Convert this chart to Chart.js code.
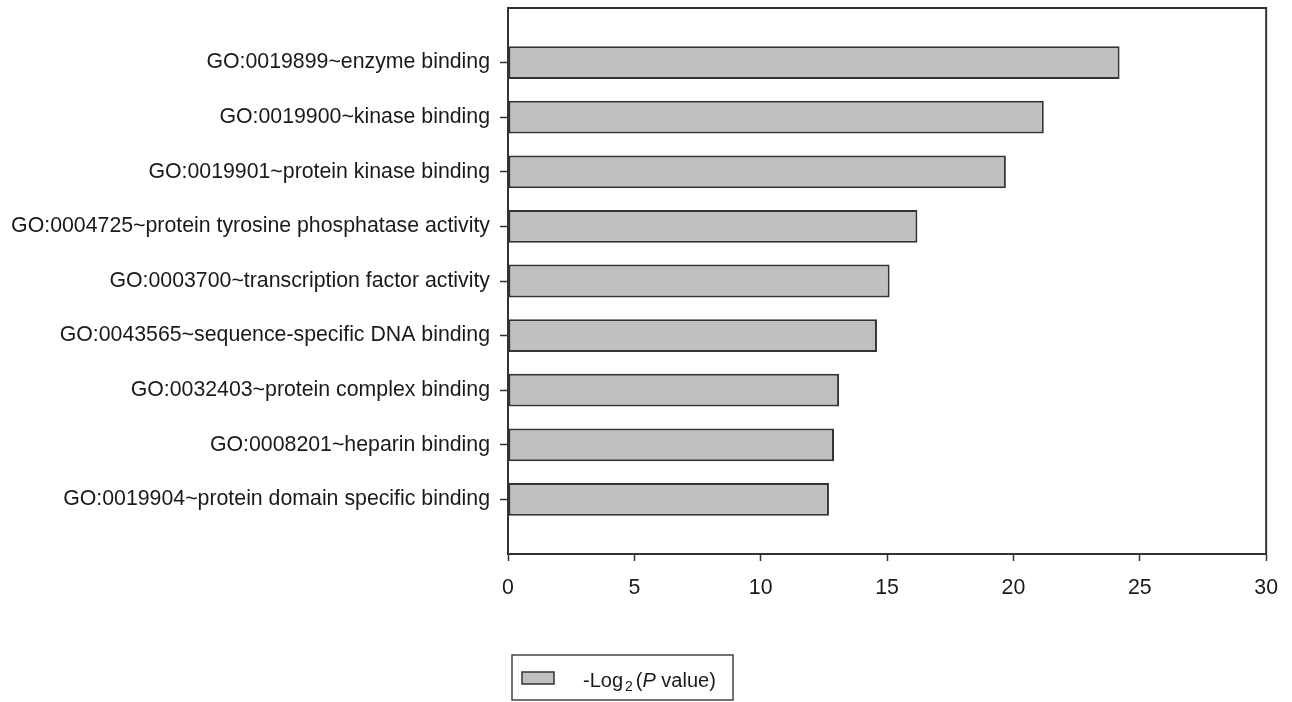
<!DOCTYPE html>
<html>
<head>
<meta charset="utf-8">
<script src="https://cdn.jsdelivr.net/npm/chart.js@4/dist/chart.umd.min.js"></script>
<style>
  html, body { margin: 0; padding: 0; background: #fff; }
  canvas { display: block; }
</style>
</head>
<body>
<canvas id="goChart" width="1292" height="702"></canvas>
<script>
// GO terms (top to bottom) and their -Log2(P value)
const categories = [
  'GO:0019899~enzyme binding',
  'GO:0019900~kinase binding',
  'GO:0019901~protein kinase binding',
  'GO:0004725~protein tyrosine phosphatase activity',
  'GO:0003700~transcription factor activity',
  'GO:0043565~sequence-specific DNA binding',
  'GO:0032403~protein complex binding',
  'GO:0008201~heparin binding',
  'GO:0019904~protein domain specific binding'
];
const values = [24.2, 21.2, 19.7, 16.2, 15.1, 14.6, 13.1, 12.9, 12.7];
const xTicks = [0, 5, 10, 15, 20, 25, 30];
const seriesLabel = '-Log\u2082(P value)';

const FONT = "'Liberation Sans', Arial, sans-serif";
const INK = '#1a1a1a';
const LINE = '#333333';
const BAR_FILL = '#c0c0c0';

// empty slot above and below so the bars sit like the original plot
const paddedLabels = [''].concat(categories, ['']);
const paddedValues = [null].concat(values, [null]);
const lastIdx = paddedLabels.length - 1;

// box around the whole plot area
const framePlugin = {
  id: 'frame',
  afterDraw(chart) {
    const { ctx, chartArea: a } = chart;
    ctx.save();
    ctx.strokeStyle = LINE;
    ctx.lineWidth = 2;
    ctx.strokeRect(a.left, a.top, a.right - a.left, a.bottom - a.top);
    ctx.restore();
  }
};

// legend box with subscript and italic P
const legendPlugin = {
  id: 'boxLegend',
  afterDraw(chart) {
    const ctx = chart.ctx;
    const ds = chart.data.datasets[0];
    ctx.save();
    ctx.strokeStyle = '#444';
    ctx.lineWidth = 1.5;
    ctx.strokeRect(512, 655, 221, 45);

    ctx.fillStyle = ds.backgroundColor;
    ctx.fillRect(522, 672, 32, 12);
    ctx.lineWidth = 1.5;
    ctx.strokeStyle = ds.borderColor;
    ctx.strokeRect(522, 672, 32, 12);

    const base = 687;
    let x = 583;
    const parts = [
      { t: '-Log', f: '20px ' + FONT, dy: 0, gap: 2 },
      { t: '2', f: '14px ' + FONT, dy: 4, gap: 3 },
      { t: '(', f: '20px ' + FONT, dy: 0, gap: 0 },
      { t: 'P', f: 'italic 20px ' + FONT, dy: 0, gap: 0 },
      { t: ' value)', f: '20px ' + FONT, dy: 0, gap: 0 }
    ];
    ctx.fillStyle = INK;
    ctx.textBaseline = 'alphabetic';
    ctx.textAlign = 'left';
    parts.forEach(p => {
      ctx.font = p.f;
      ctx.fillText(p.t, x, base + p.dy);
      x += ctx.measureText(p.t).width + p.gap;
    });
    ctx.restore();
  }
};

new Chart(document.getElementById('goChart'), {
  type: 'bar',
  data: {
    labels: paddedLabels,
    datasets: [{
      label: seriesLabel,
      data: paddedValues,
      backgroundColor: BAR_FILL,
      borderColor: LINE,
      borderWidth: 2,
      borderSkipped: false,
      categoryPercentage: 1,
      barPercentage: 0.6
    }]
  },
  options: {
    indexAxis: 'y',
    responsive: false,
    animation: false,
    layout: { padding: { top: 8, right: 25, bottom: 0, left: 0 } },
    plugins: {
      legend: { display: false },
      tooltip: { enabled: false }
    },
    scales: {
      y: {
        type: 'category',
        offset: false,
        grid: {
          offset: false,
          drawOnChartArea: false,
          drawTicks: true,
          tickLength: 8,
          tickWidth: 1.5,
          tickColor: ctx => (ctx.index === 0 || ctx.index === lastIdx) ? 'rgba(0,0,0,0)' : LINE
        },
        border: { display: true, color: LINE, width: 2 },
        ticks: {
          autoSkip: false,
          padding: 10,
          color: INK,
          font: { family: FONT, size: 21.3 }
        },
        afterFit(scale) {
          scale.width = 508;
          scale.paddingTop = 0;
          scale.paddingBottom = 0;
        }
      },
      x: {
        type: 'linear',
        min: xTicks[0],
        max: xTicks[xTicks.length - 1],
        afterBuildTicks(scale) { scale.ticks = xTicks.map(v => ({ value: v })); },
        grid: {
          drawOnChartArea: false,
          drawTicks: true,
          tickLength: 7,
          tickWidth: 1.5,
          tickColor: LINE
        },
        border: { display: true, color: LINE, width: 2 },
        ticks: {
          padding: 14,
          color: INK,
          font: { family: FONT, size: 21.3 }
        },
        afterFit(scale) { scale.height = 148; }
      }
    }
  },
  plugins: [framePlugin, legendPlugin]
});
</script>
</body>
</html>
